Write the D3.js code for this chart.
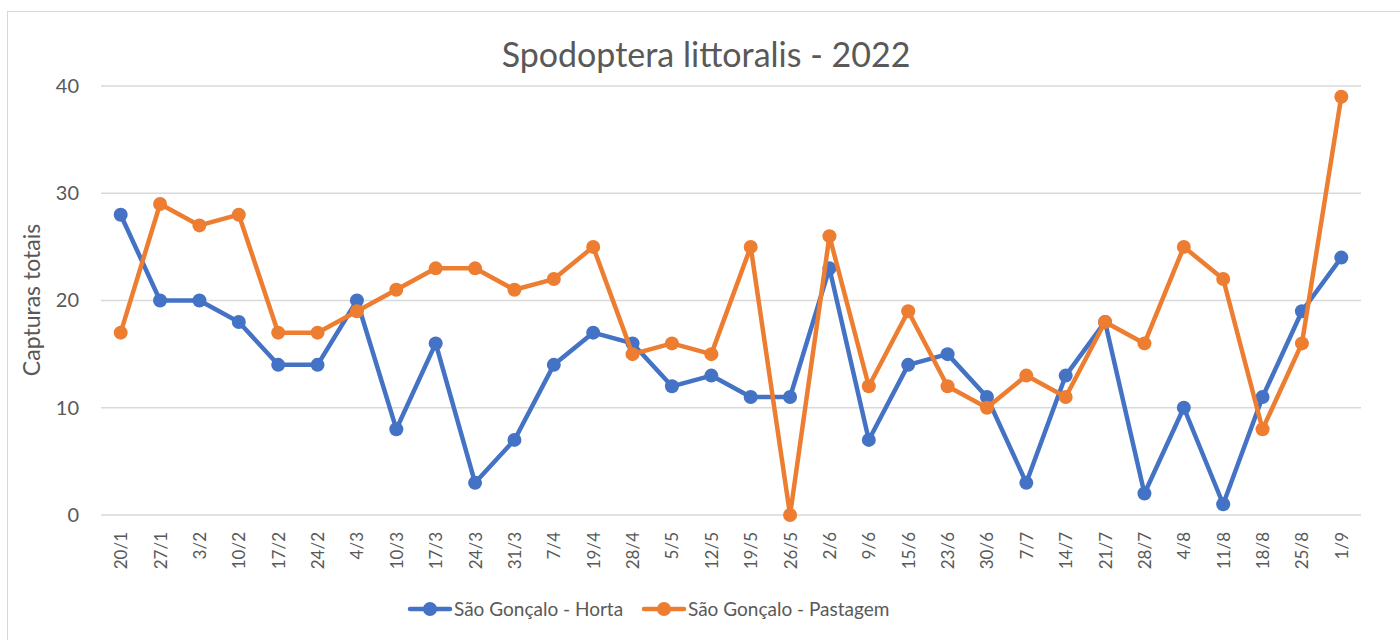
<!DOCTYPE html>
<html lang="pt">
<head>
  <meta charset="utf-8">
  <title>Spodoptera littoralis - 2022</title>
  <script src="https://d3js.org/d3.v7.min.js"></script>
  <style>
    body { margin: 0; background: #fff; }
    text { font-family: Lato, "Open Sans", sans-serif; fill: #595959; }
  </style>
</head>
<body>
<svg id="chart" width="1400" height="640"></svg>

<script>
// dates of collection
var datas = ["20/1", "27/1", "3/2", "10/2", "17/2", "24/2", "4/3", "10/3", "17/3", "24/3",
    "31/3", "7/4", "19/4", "28/4", "5/5", "12/5", "19/5", "26/5", "2/6", "9/6",
    "15/6", "23/6", "30/6", "7/7", "14/7", "21/7", "28/7", "4/8", "11/8", "18/8",
    "25/8", "1/9"];

var horta = [28, 20, 20, 18, 14, 14, 20, 8, 16, 3, 7, 14, 17, 16, 12, 13, 11, 11,
    23, 7, 14, 15, 11, 3, 13, 18, 2, 10, 1, 11, 19, 24];

var pastagem = [17, 29, 27, 28, 17, 17, 19, 21, 23, 23, 21, 22, 25, 15, 16, 15, 25, 0,
    26, 12, 19, 12, 10, 13, 11, 18, 16, 25, 22, 8, 16, 39];

var yTicks = [0, 10, 20, 30, 40];

var series = [
    {name: "São Gonçalo - Horta", values: horta, color: "#4472C4"},
    {name: "São Gonçalo - Pastagem", values: pastagem, color: "#ED7D31"}
];

var svg = d3.select("#chart");

// chart frame
svg.append("rect")
    .attr("x", 7.5).attr("y", 11.5)
    .attr("width", 1400).attr("height", 640)
    .attr("fill", "none")
    .attr("stroke", "#d9d9d9");

var plotLeft = 101, plotRight = 1361, plotTop = 86, plotBottom = 515;

var x = d3.scalePoint()
    .domain(datas)
    .range([plotLeft, plotRight])
    .padding(0.5);

var y = d3.scaleLinear()
    .domain([0, 40])
    .range([plotBottom, plotTop]);

// gridlines
svg.append("g")
    .selectAll("line")
    .data(yTicks)
    .enter()
    .append("line")
    .attr("x1", plotLeft).attr("x2", plotRight)
    .attr("y1", function(d) { return y(d); })
    .attr("y2", function(d) { return y(d); })
    .attr("stroke", "#d9d9d9")
    .attr("stroke-width", 1.3);

// y axis labels
var yAxis = svg.append("g")
    .attr("transform", "translate(" + (plotLeft - 22) + ",0)")
    .call(d3.axisLeft(y).tickValues(yTicks).tickSize(0).tickPadding(0));
yAxis.select(".domain").remove();
yAxis.selectAll("text")
    .style("font-size", "20px")
    .attr("fill", "#595959")
    .attr("font-family", "Lato, 'Open Sans', sans-serif");

// x axis labels (rotated)
var xAxis = svg.append("g")
    .attr("transform", "translate(0," + plotBottom + ")")
    .call(d3.axisBottom(x).tickSize(0));
xAxis.select(".domain").remove();
xAxis.selectAll("text")
    .style("font-size", "17px")
    .attr("fill", "#595959")
    .attr("font-family", "Lato, 'Open Sans', sans-serif")
    .attr("transform", "rotate(-90)")
    .attr("x", -17)
    .attr("y", 0)
    .attr("dy", "0.35em")
    .style("text-anchor", "end");

// lines and markers
var line = d3.line()
    .x(function(d, i) { return x(datas[i]); })
    .y(function(d) { return y(d); });

series.forEach(function(s) {
    svg.append("path")
        .datum(s.values)
        .attr("d", line)
        .attr("fill", "none")
        .attr("stroke", s.color)
        .attr("stroke-width", 4.5)
        .attr("stroke-linejoin", "round");

    svg.append("g")
        .selectAll("circle")
        .data(s.values)
        .enter()
        .append("circle")
        .attr("cx", function(d, i) { return x(datas[i]); })
        .attr("cy", function(d) { return y(d); })
        .attr("r", 7)
        .attr("fill", s.color);
});

// title
svg.append("text")
    .attr("x", 706).attr("y", 67)
    .attr("text-anchor", "middle")
    .style("font-size", "34px")
    .text("Spodoptera littoralis - 2022");

// y axis title
svg.append("text")
    .attr("transform", "translate(40,300) rotate(-90)")
    .attr("text-anchor", "middle")
    .style("font-size", "23px")
    .text("Capturas totais");

// legend
var legendX = [408, 642];
series.forEach(function(s, i) {
    var g = svg.append("g").attr("transform", "translate(" + legendX[i] + ",609)");
    g.append("line")
        .attr("x1", 2).attr("x2", 42)
        .attr("stroke", s.color)
        .attr("stroke-width", 4.5)
        .attr("stroke-linecap", "round");
    g.append("circle").attr("cx", 22).attr("r", 7).attr("fill", s.color);
    g.append("text")
        .attr("x", 46).attr("dy", "0.35em")
        .style("font-size", "19px")
        .text(s.name);
});
</script>
</body>
</html>
